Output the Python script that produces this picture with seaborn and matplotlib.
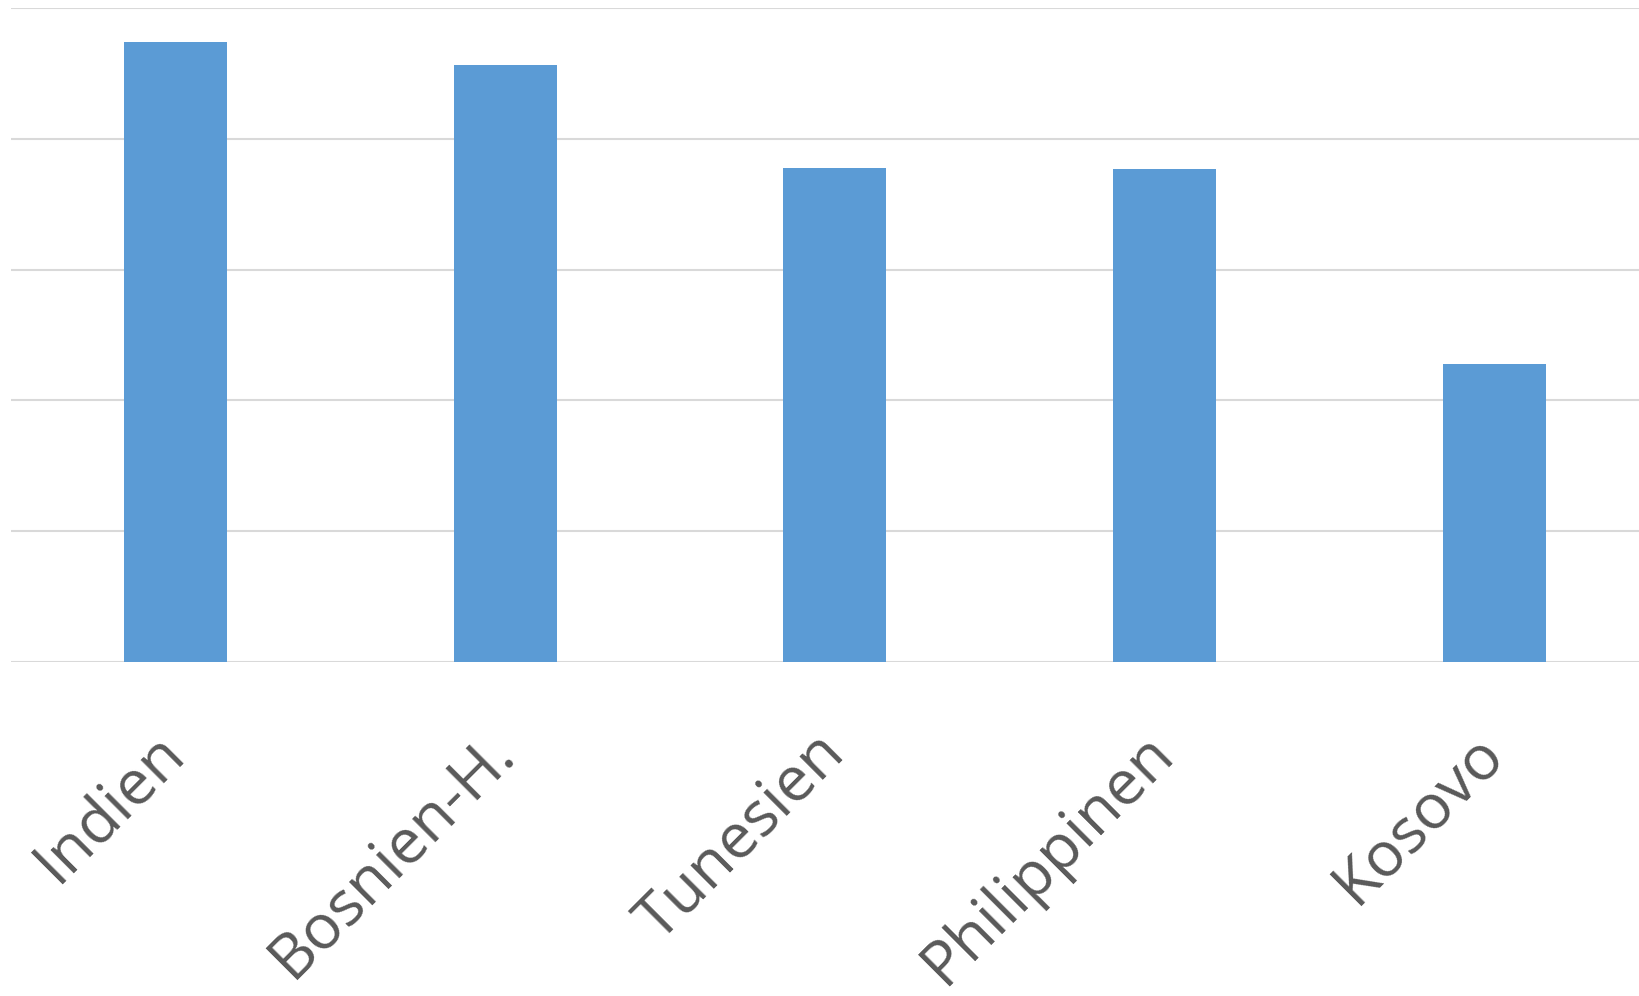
import matplotlib
matplotlib.use('Agg')
import matplotlib.pyplot as plt
import pandas as pd
import seaborn as sns

# Values (no axis labels, units = gridline steps)
countries = ['Indien', 'Bosnien-H.', 'Tunesien', 'Philippinen', 'Kosovo']
values = [4.74, 4.57, 3.78, 3.77, 2.28]

df = pd.DataFrame({'land': countries, 'wert': values})

sns.set_style('white')
plt.rcParams['font.family'] = ['Open Sans', 'DejaVu Sans']

fig = plt.figure(figsize=(16.39, 9.96), dpi=100)
ax = fig.add_axes([0.0067, 0.3356, 1.0055, 0.656])

sns.barplot(data=df, x='land', y='wert', color='#5B9BD5', width=0.3125,
            saturation=1, linewidth=0, ax=ax, zorder=3)

ax.set_xlim(-0.5, 4.5)
ax.set_ylim(0, 5)
ax.set_yticks([0, 1, 2, 3, 4, 5])
ax.yaxis.grid(True, color='#D9D9D9', linewidth=1.5, zorder=0)
ax.set_axisbelow(True)
ax.set_yticklabels([])
ax.tick_params(axis='y', length=0)
ax.tick_params(axis='x', length=0, pad=59, labelsize=45, labelcolor='#595959')
for lbl in ax.get_xticklabels():
    lbl.set_rotation(45)
    lbl.set_ha('right')
    lbl.set_va('center')
    lbl.set_rotation_mode('anchor')
ax.set_xlabel('')
ax.set_ylabel('')
sns.despine(ax=ax, left=True, top=True, right=True, bottom=True)

fig.savefig('out.png', dpi=100)
